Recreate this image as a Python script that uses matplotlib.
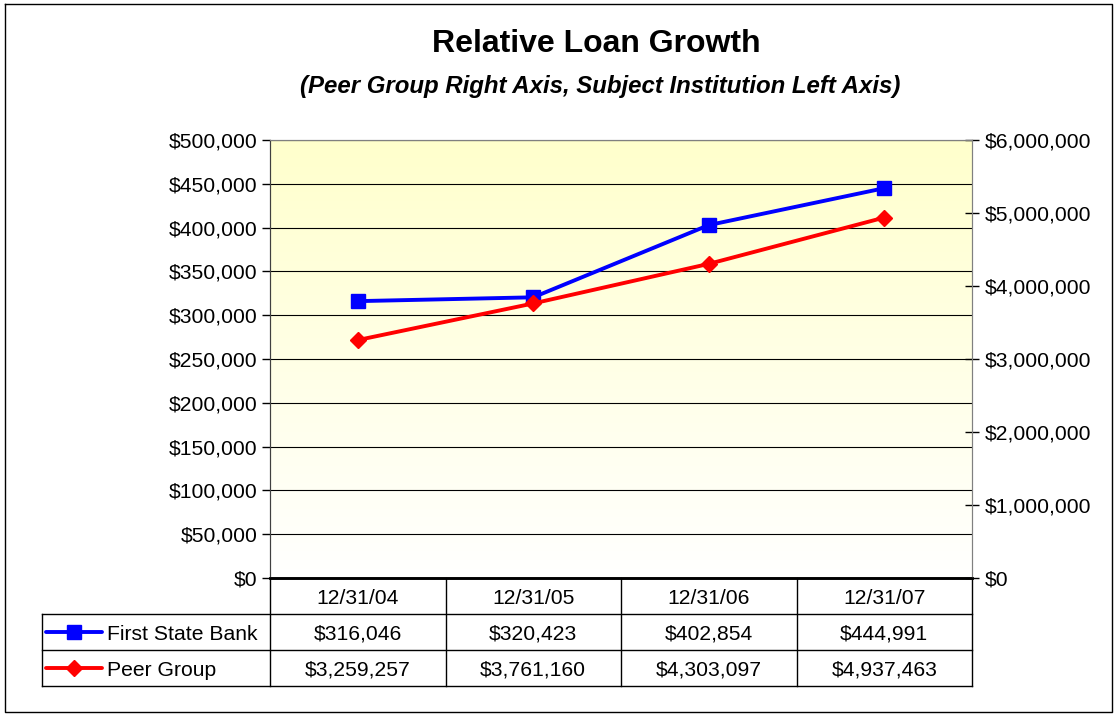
import numpy as np
import matplotlib
matplotlib.use('Agg')
import matplotlib.pyplot as plt
from matplotlib.ticker import FuncFormatter

plt.rcParams['font.family'] = ['Liberation Sans', 'DejaVu Sans']

# data
dates = ['12/31/04', '12/31/05', '12/31/06', '12/31/07']
bank_name = 'First State Bank'
peer_name = 'Peer Group'
bank_vals = [316046, 320423, 402854, 444991]
peer_vals = [3259257, 3761160, 4303097, 4937463]

W, H = 1117, 716
fs = 15.2
fig = plt.figure(figsize=(W / 100, H / 100), dpi=100)

# plot area in pixels
L, R, T, B = 270, 972, 140, 578
ax = fig.add_axes([L / W, 1 - B / H, (R - L) / W, (B - T) / H])
ax2 = ax.twinx()

x = np.arange(len(dates))
ax.set_xlim(-0.5, len(dates) - 0.5)
ax.set_ylim(0, 500000)
ax2.set_ylim(0, 6000000)

# yellow gradient background
grad = np.linspace(1, 0, 256).reshape(-1, 1)
top = np.array([1.0, 1.0, 0.8])
bot = np.array([1.0, 1.0, 1.0])
img = grad[..., None] * top + (1 - grad[..., None]) * bot
ax.imshow(img, extent=[-0.5, len(dates) - 0.5, 0, 500000], aspect='auto', zorder=0)

money = FuncFormatter(lambda v, p: '${:,.0f}'.format(v))
ax.set_yticks(np.arange(0, 500001, 50000))
ax.yaxis.set_major_formatter(money)
ax2.set_yticks(np.arange(0, 6000001, 1000000))
ax2.yaxis.set_major_formatter(money)
ax.set_xticks([])
ax.grid(axis='y', color='black', linewidth=0.8, zorder=1)
ax.set_axisbelow(True)

ax.tick_params(axis='y', labelsize=fs, length=6, width=1, direction='out', pad=3)
ax2.tick_params(axis='y', labelsize=fs, length=10, width=1, direction='inout', pad=4)

for a in (ax, ax2):
    a.spines['top'].set_color('#808080')
    a.spines['right'].set_color('#808080')
    a.spines['left'].set_color('#404040')
    a.spines['bottom'].set_color('black')
    a.spines['bottom'].set_linewidth(1.8)

ax2.set_zorder(ax.get_zorder() + 1)
ax2.patch.set_visible(False)

ax.plot(x, bank_vals, color='#0000FF', linewidth=2.8, marker='s', markersize=10,
        zorder=5, clip_on=False)
ax2.plot(x, peer_vals, color='#FF0000', linewidth=2.8, marker='D', markersize=8,
         zorder=5, clip_on=False)

# titles
fig.text(596 / W, 1 - 44 / H, 'Relative Loan Growth', ha='center', va='center',
         fontsize=23, fontweight='bold')
fig.text(600 / W, 1 - 86 / H, '(Peer Group Right Axis, Subject Institution Left Axis)',
         ha='center', va='center', fontsize=17.3, fontweight='bold', fontstyle='italic')

# data table drawn in pixel coordinates
tab = fig.add_axes([0, 0, 1, 1])
tab.set_xlim(0, W)
tab.set_ylim(H, 0)
tab.axis('off')

rows = [578, 614, 650, 686]
tl = 42
colw = (R - L) / len(dates)
lw = 1.0
# horizontal lines
tab.plot([L, R], [rows[0], rows[0]], color='black', lw=lw)
for yy in rows[1:]:
    tab.plot([tl, R], [yy, yy], color='black', lw=lw)
# vertical lines
tab.plot([tl, tl], [rows[1], rows[3]], color='black', lw=lw)
for i in range(len(dates) + 1):
    xx = L + i * colw
    tab.plot([xx, xx], [rows[0], rows[3]], color='black', lw=lw)

for i, d in enumerate(dates):
    cx = L + (i + 0.5) * colw
    tab.text(cx, (rows[0] + rows[1]) / 2 + 2, d, ha='center', va='center', fontsize=fs)
    tab.text(cx, (rows[1] + rows[2]) / 2 + 2, '${:,}'.format(bank_vals[i]),
             ha='center', va='center', fontsize=fs)
    tab.text(cx, (rows[2] + rows[3]) / 2 + 2, '${:,}'.format(peer_vals[i]),
             ha='center', va='center', fontsize=fs)

# legend keys
for yy, name, col, mk, ms in [((rows[1] + rows[2]) / 2, bank_name, '#0000FF', 's', 10),
                              ((rows[2] + rows[3]) / 2, peer_name, '#FF0000', 'D', 8)]:
    tab.plot([46, 102], [yy, yy], color=col, lw=2.8, solid_capstyle='round')
    tab.plot([74], [yy], color=col, marker=mk, markersize=ms)
    tab.text(107, yy + 2, name, ha='left', va='center', fontsize=fs)

# outer border
tab.plot([5, 1112, 1112, 5, 5], [4, 4, 712, 712, 4], color='black', lw=1.0)

fig.savefig('out.png', dpi=100)
